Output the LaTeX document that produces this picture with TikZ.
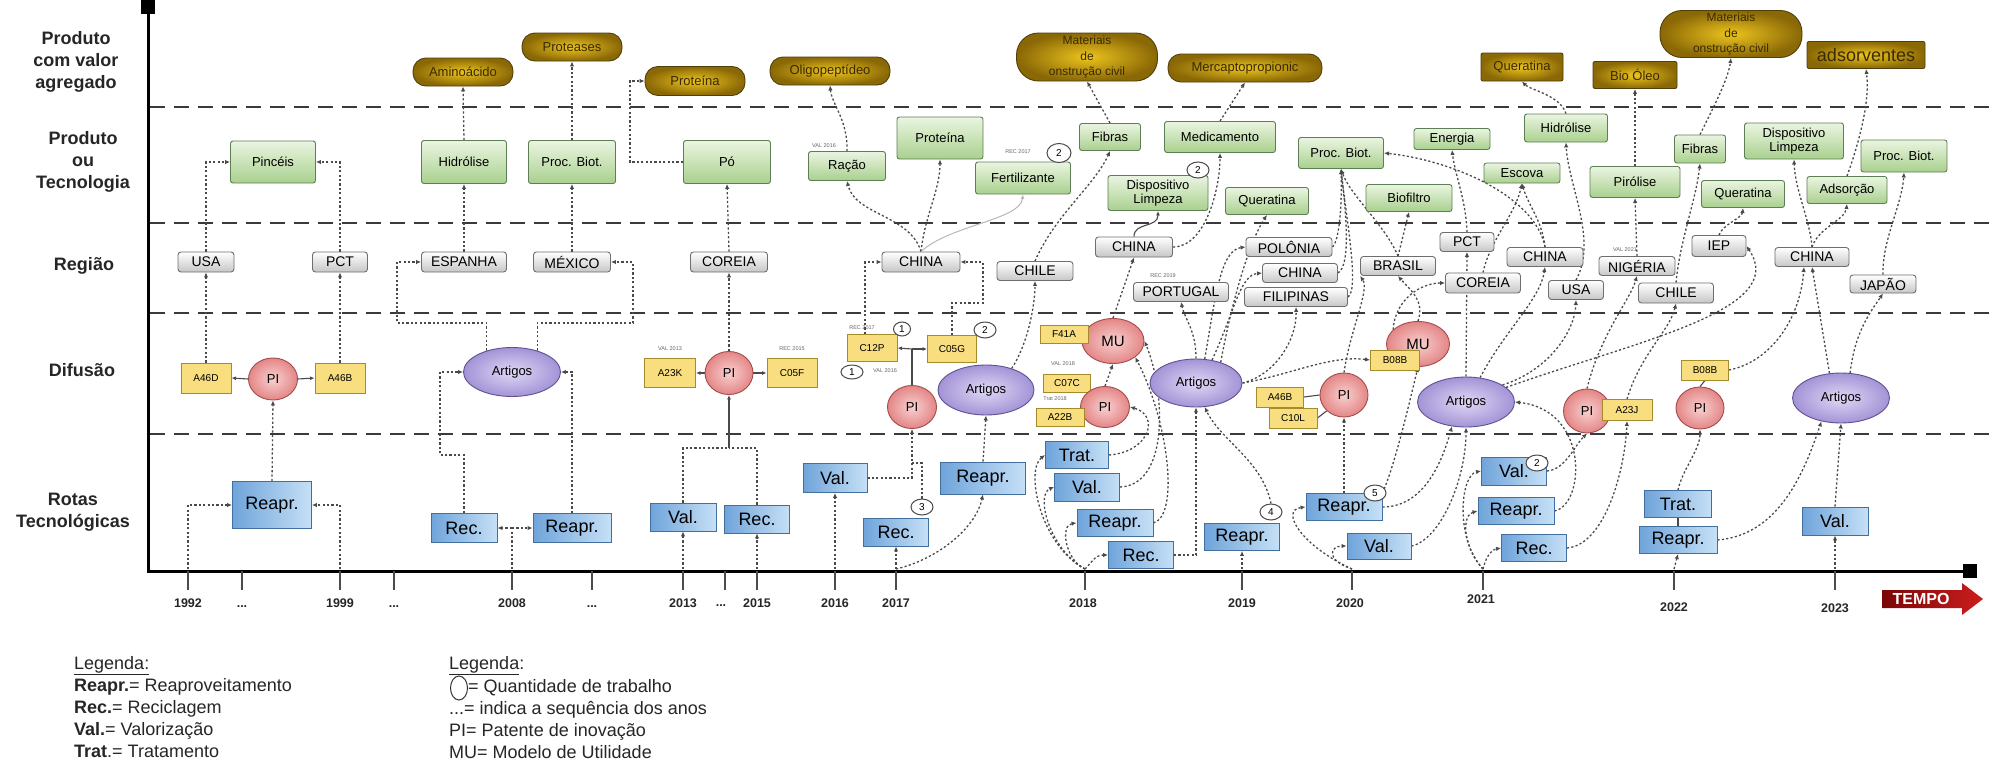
\documentclass[tikz,border=0pt]{standalone}
\usepackage{fontspec}
\setmainfont{Liberation Sans}
\usetikzlibrary{shapes.geometric,arrows.meta,calc}
\definecolor{grnD}{HTML}{5E7F55}
\definecolor{grnL}{HTML}{EAF5E1}
\definecolor{grnM}{HTML}{A9D08E}
\definecolor{gryD}{HTML}{6E6E6E}
\definecolor{gryM}{HTML}{C6C6C6}
\definecolor{yelD}{HTML}{A68B2C}
\definecolor{yelM}{HTML}{F8DE7E}
\definecolor{bluD}{HTML}{41709F}
\definecolor{bluM}{HTML}{6FA4DA}
\definecolor{bluL}{HTML}{C6E0F6}
\definecolor{gldD}{HTML}{4F3F0A}
\definecolor{gldL}{HTML}{EDC51E}
\definecolor{gldM}{HTML}{8A6806}
\definecolor{gldT}{HTML}{3A2A00}
\definecolor{piD}{HTML}{A34C4C}
\definecolor{piL}{HTML}{F8D0D0}
\definecolor{piM}{HTML}{E48686}
\definecolor{artD}{HTML}{5F5294}
\definecolor{artL}{HTML}{E0D8F5}
\definecolor{artM}{HTML}{A393D6}
\definecolor{conC}{HTML}{4A4A4A}
\definecolor{sepC}{HTML}{3A3A3A}
\definecolor{tempoD}{HTML}{7A0606}
\definecolor{tempoL}{HTML}{CC1E1E}
\pgfdeclarelayer{bg}
\pgfsetlayers{bg,main}
\begin{document}
\begin{tikzpicture}[x=1pt,y=-1pt,
  sz/.style 2 args={minimum width=#1pt,minimum height=#2pt},
  bx/.style={draw,line width=0.9pt,align=center,inner sep=1pt},
  grn/.style={bx,rounded corners=2.5pt,draw=grnD,top color=grnL,bottom color=grnM,font=\fontsize{13}{15}\selectfont},
  gry/.style={bx,rounded corners=3pt,draw=gryD,top color=white,bottom color=gryM,font=\fontsize{14}{15}\selectfont},
  yel/.style={bx,draw=yelD,fill=yelM,font=\fontsize{10}{11}\selectfont},
  blu/.style={bx,draw=bluD,left color=bluM,right color=bluL,font=\fontsize{18}{19}\selectfont},
  gld/.style={bx,draw=gldD,inner color=gldL,outer color=gldM,text=gldT,font=\fontsize{13}{15}\selectfont},
  pill/.style={gld,rounded corners=13pt},
  gldbox/.style={gld,rounded corners=2pt},
  pinode/.style={ellipse,draw=piD,line width=0.9pt,inner color=piL,outer color=piM,font=\fontsize{13}{14}\selectfont,inner sep=0pt},
  artnode/.style={ellipse,draw=artD,line width=0.9pt,inner color=artL,outer color=artM,font=\fontsize{13}{14}\selectfont,inner sep=0pt},
  numc/.style={ellipse,draw=conC,fill=white,line width=1pt,minimum width=22pt,minimum height=16pt,inner sep=0pt,font=\fontsize{10}{10}\selectfont},
  yeartag/.style={font=\fontsize{5.5}{6}\selectfont,text=black!60,inner sep=0pt},
  dl/.style={draw=conC,line width=1.3pt,dash pattern=on 2.2pt off 2.2pt},
  dla/.style={dl,-{Latex[length=5pt,width=4.5pt]}},
  sla/.style={draw=conC,line width=1.1pt,-{Latex[length=4.5pt,width=4pt]}},
  plainlink/.style={draw=conC,line width=1.1pt},
  graylink/.style={draw=black!28,line width=1pt,-{Latex[length=4.5pt,width=4pt]}},
  rowsep/.style={draw=sepC,line width=2.6pt,dash pattern=on 15pt off 9pt},
  axisline/.style={draw=black,line width=3pt},
  tickmark/.style={draw=black!70,line width=1.5pt},
  yearlab/.style={font=\fontsize{12.5}{13}\selectfont\bfseries,text=black!85},
  rowlab/.style={font=\fontsize{18}{22}\selectfont\bfseries,align=center,text=black!85},
  legtext/.style={font=\fontsize{18}{20}\selectfont,anchor=base west,inner sep=0pt,text=black!85}
]
\useasboundingbox (0,0) rectangle (2000,763);

% ---------- row titles ----------
\node[rowlab] (labA) at (76,62) {Produto\\com valor\\agregado};
\node[rowlab] (labB) at (83,162) {Produto\\ou\\Tecnologia};
\node[rowlab] (labC) at (84,266) {Região};
\node[rowlab] (labD) at (82,370) {Difusão};
\node[rowlab] (labE) at (73,512) {Rotas\\Tecnológicas};

% ---------- time axis ----------
\coordinate (k1992) at (188,569);
\coordinate (k1999) at (340,569);
\coordinate (k2008) at (512,569);
\coordinate (k2013) at (683,569);
\coordinate (k2015) at (757,569);
\coordinate (k2016) at (835,569);
\coordinate (k2017) at (896,569);
\coordinate (k2018) at (1085,569);
\coordinate (k2019) at (1242,569);
\coordinate (k2020) at (1352,569);
\coordinate (k2021) at (1483,569);
\coordinate (k2022) at (1674,569);
\coordinate (k2023) at (1835,569);
\node[yearlab] (y1992) at (188,603) {1992};
\node[yearlab] (d1) at (242,607) {...};
\node[yearlab] (y1999) at (340,603) {1999};
\node[yearlab] (d2) at (394,607) {...};
\node[yearlab] (y2008) at (512,603) {2008};
\node[yearlab] (d3) at (592,607) {...};
\node[yearlab] (y2013) at (683,603) {2013};
\node[yearlab] (d4) at (721,606) {...};
\node[yearlab] (y2015) at (757,603) {2015};
\node[yearlab] (y2016) at (835,603) {2016};
\node[yearlab] (y2017) at (896,603) {2017};
\node[yearlab] (y2018) at (1083,603) {2018};
\node[yearlab] (y2019) at (1242,603) {2019};
\node[yearlab] (y2020) at (1350,603) {2020};
\node[yearlab] (y2021) at (1481,599) {2021};
\node[yearlab] (y2022) at (1674,607) {2022};
\node[yearlab] (y2023) at (1835,608) {2023};

% arrow "TEMPO"
\shade[left color=tempoD,right color=tempoL] (1882,590) -- (1962,590) -- (1962,583) -- (1983,599) -- (1962,615) -- (1962,608) -- (1882,608) -- cycle;
\node[font=\fontsize{16}{16}\selectfont\bfseries,text=white] (tempo) at (1921,599) {TEMPO};

% ---------- 1992 / 1999 ----------
\node[grn,sz={85}{42}] (pinceis) at (273,162) {Pincéis};
\node[gry,sz={56}{20}] (usa92) at (206,262) {USA};
\node[gry,sz={55}{20}] (pct99) at (340,262) {PCT};
\node[yel,sz={50}{30}] (a46d) at (206,378) {A46D};
\node[pinode,sz={49}{42}] (pi92) at (273,379) {PI};
\node[yel,sz={50}{30}] (a46b) at (340,378) {A46B};
\node[blu,sz={79}{47}] (reapr92) at (272,505) {Reapr.};

% ---------- 2008 ----------
\node[pill,sz={100}{28}] (aminoacido) at (463,72) {Aminoácido};
\node[pill,sz={100}{28}] (proteases) at (572,47) {Proteases};
\node[grn,sz={85}{43}] (hidrolise08) at (464,162) {Hidrólise};
\node[grn,sz={87}{43}] (procbiot08) at (572,162) {Proc. Biot.};
\node[gry,sz={85}{20}] (espanha) at (464,262) {ESPANHA};
\node[gry,sz={77}{20}] (mexico) at (572,262) {MÉXICO};
\node[artnode,sz={97}{49}] (artigos08) at (512,372) {Artigos};
\node[blu,sz={66}{29}] (rec08) at (464,528) {Rec.};
\node[blu,sz={78}{29}] (reapr08) at (572,528) {Reapr.};

% ---------- 2013 / 2015 ----------
\node[pill,sz={100}{29}] (proteina13) at (695,81) {Proteína};
\node[grn,sz={87}{43}] (po) at (727,162) {Pó};
\node[gry,sz={77}{20}] (coreia13) at (729,262) {COREIA};
\node[yel,sz={51}{29}] (a23k) at (670,373) {A23K};
\node[yeartag] (t13) at (670,349) {VAL 2013};
\node[pinode,sz={48}{43}] (pi13) at (729,373) {PI};
\node[yel,sz={50}{29}] (c05f) at (792,373) {C05F};
\node[yeartag] (t15) at (792,349) {REC 2015};
\node[blu,sz={66}{28}] (val13) at (683,517) {Val.};
\node[blu,sz={65}{28}] (rec15) at (757,519) {Rec.};

% ---------- 2016 / 2017 ----------
\node[pill,sz={120}{28}] (oligo) at (830,71) {Oligopeptídeo};
\node[grn,sz={77}{29}] (racao) at (847,166) {Ração};
\node[yeartag] (t16a) at (824,146) {VAL 2016};
\node[grn,sz={86}{42}] (proteina17) at (940,138) {Proteína};
\node[grn,sz={95}{32}] (fertil) at (1023,178) {Fertilizante};
\node[yeartag] (t17a) at (1018,152) {REC 2017};
\node[gry,sz={78}{20}] (china16) at (921,262) {CHINA};
\node[yel,sz={50}{27}] (c12p) at (872,348) {C12P};
\node[yeartag] (t17b) at (862,328) {REC 2017};
\node[yeartag] (t16b) at (885,371) {VAL 2016};
\node[yel,sz={49}{27}] (c05g) at (952,349) {C05G};
\node[pinode,sz={49}{43}] (pi17) at (912,407) {PI};
\node[artnode,sz={96}{50}] (artigos17) at (986,390) {Artigos};
\node[blu,sz={64}{29}] (val16) at (835,478) {Val.};
\node[blu,sz={65}{28}] (rec17) at (896,532) {Rec.};
\node[blu,sz={85}{32}] (reapr17) at (983,478) {Reapr.};

% ---------- 2018 ----------
\node[pill,rounded corners=22pt,sz={141}{48},inner sep=0pt,font=\fontsize{12}{15.5}\selectfont] (materiais18) at (1087,57) {Materiais\\de\\onstrução civil};
\node[pill,sz={154}{28}] (merc) at (1245,68) {Mercaptopropionic};
\node[grn,sz={61}{27}] (fibras18) at (1110,137) {Fibras};
\node[grn,sz={111}{31}] (medicamento) at (1220,137) {Medicamento};
\node[grn,sz={100}{35},font=\fontsize{13}{14}\selectfont] (displimp18) at (1158,193) {Dispositivo\\Limpeza};
\node[gry,sz={76}{19}] (chile18) at (1035,271) {CHILE};
\node[gry,sz={77}{20}] (china18) at (1134,247) {CHINA};
\node[gry,sz={95}{19}] (portugal) at (1181,292) {PORTUGAL};
\node[yeartag] (t19a) at (1163,276) {REC 2019};
\node[pinode,sz={62}{45},font=\fontsize{15}{16}\selectfont] (mu18) at (1113,341) {MU};
\node[yel,sz={48}{18}] (f41a) at (1064,334) {F41A};
\node[yel,sz={47}{18}] (c07c) at (1067,383) {C07C};
\node[yeartag] (t18a) at (1063,364) {VAL 2018};
\node[yeartag] (t18b) at (1055,399) {Trat 2018};
\node[pinode,sz={49}{41}] (pi18) at (1105,407) {PI};
\node[yel,sz={48}{18}] (a22b) at (1060,417) {A22B};
\node[blu,sz={63}{27}] (trat18) at (1077,455) {Trat.};
\node[blu,sz={65}{28}] (val18) at (1087,487) {Val.};
\node[blu,sz={76}{27}] (reapr18) at (1115,523) {Reapr.};
\node[blu,sz={65}{27}] (rec18) at (1141,555) {Rec.};

% ---------- 2019 ----------
\node[grn,sz={83}{27}] (queratina19) at (1267,201) {Queratina};
\node[grn,sz={85}{31}] (procbiot19) at (1341,153) {Proc. Biot.};
\node[gry,sz={86}{19}] (polonia) at (1289,247) {POLÔNIA};
\node[gry,sz={75}{19}] (china19) at (1300,273) {CHINA};
\node[gry,sz={103}{19}] (filipinas) at (1296,297) {FILIPINAS};
\node[artnode,sz={92}{48}] (artigos19) at (1196,383) {Artigos};
\node[blu,sz={75}{27}] (reapr19) at (1242,537) {Reapr.};

% ---------- 2020 ----------
\node[grn,sz={76}{21}] (energia) at (1452,139) {Energia};
\node[grn,sz={86}{27}] (biofiltro) at (1409,198) {Biofiltro};
\node[gry,sz={75}{19}] (brasil) at (1398,266) {BRASIL};
\node[gry,sz={54}{19}] (pct20) at (1467,242) {PCT};
\node[gry,sz={75}{20}] (coreia20) at (1483,283) {COREIA};
\node[pinode,sz={63}{45},font=\fontsize{15}{16}\selectfont] (mu20) at (1418,344) {MU};
\node[yel,sz={49}{20}] (b08b20) at (1395,360) {B08B};
\node[pinode,sz={48}{44}] (pi20) at (1344,395) {PI};
\node[yel,sz={47}{20}] (a46b20) at (1280,397) {A46B};
\node[yel,sz={48}{20}] (c10l) at (1293,418) {C10L};
\node[blu,sz={76}{27}] (reapr20) at (1344,507) {Reapr.};
\node[blu,sz={64}{26}] (val20) at (1379,546) {Val.};

% ---------- 2021 ----------
\node[gldbox,sz={82}{28}] (queratinaG) at (1522,67) {Queratina};
\node[grn,sz={83}{28}] (hidrolise21) at (1566,128) {Hidrólise};
\node[grn,sz={76}{20}] (escova) at (1522,173) {Escova};
\node[gry,sz={76}{19}] (china21) at (1545,257) {CHINA};
\node[gry,sz={55}{19}] (usa21) at (1576,290) {USA};
\node[artnode,sz={97}{50}] (artigos21) at (1466,402) {Artigos};
\node[blu,sz={65}{28}] (val21) at (1514,471) {Val.};
\node[blu,sz={76}{27}] (reapr21) at (1516,511) {Reapr.};
\node[blu,sz={65}{27}] (rec21) at (1534,548) {Rec.};
\node[gldbox,sz={84}{27}] (bioleo) at (1635,75) {Bio Óleo};
\node[grn,sz={90}{31}] (pirolise) at (1635,182) {Pirólise};
\node[gry,sz={76}{19}] (nigeria) at (1637,266) {NIGÉRIA};
\node[yeartag] (t21a) at (1625,250) {VAL 2021};
\node[pinode,sz={47}{44}] (pi21) at (1587,411) {PI};
\node[yel,sz={50}{21}] (a23j) at (1627,410) {A23J};

% ---------- 2022 ----------
\node[pill,rounded corners=22pt,sz={142}{47},inner sep=0pt,font=\fontsize{12}{15.5}\selectfont] (materiais22) at (1731,34) {Materiais\\de\\onstrução civil};
\node[grn,sz={51}{28}] (fibras22) at (1700,149) {Fibras};
\node[grn,sz={83}{27}] (queratina22) at (1743,194) {Queratina};
\node[gry,sz={54}{21}] (iep) at (1719,246) {IEP};
\node[gry,sz={75}{20}] (chile22) at (1676,293) {CHILE};
\node[yel,sz={47}{20}] (b08b22) at (1705,370) {B08B};
\node[pinode,sz={48}{42}] (pi22) at (1700,408) {PI};
\node[blu,sz={67}{27}] (trat22) at (1678,504) {Trat.};
\node[blu,sz={78}{27}] (reapr22) at (1678,540) {Reapr.};

% ---------- 2023 ----------
\node[gldbox,sz={118}{27},font=\fontsize{18}{19}\selectfont] (adsorventes) at (1866,55) {adsorventes};
\node[grn,sz={99}{36},font=\fontsize{13}{14}\selectfont] (displimp22) at (1794,141) {Dispositivo\\Limpeza};
\node[grn,sz={86}{32}] (procbiot23) at (1904,156) {Proc. Biot.};
\node[grn,sz={80}{27}] (adsorcao) at (1847,190) {Adsorção};
\node[gry,sz={74}{19}] (china23) at (1812,257) {CHINA};
\node[gry,sz={66}{18}] (japao) at (1883,284) {JAPÃO};
\node[artnode,sz={97}{50}] (artigos23) at (1841,398) {Artigos};
\node[blu,sz={66}{28}] (val23) at (1835,521) {Val.};

% ---------- work-count markers ----------
\node[numc,sz={17}{14}] (n1a) at (902,329) {1};
\node[numc,sz={22}{14}] (n1b) at (852,372) {1};
\node[numc] (n2a) at (985,330) {2};
\node[numc] (n3) at (922,507) {3};
\node[numc,sz={24}{19}] (n2b) at (1059,153) {2};
\node[numc] (n2c) at (1198,170) {2};
\node[numc] (n4) at (1271,512) {4};
\node[numc] (n5) at (1375,493) {5};
\node[numc] (n2d) at (1537,463) {2};

% ---------- legends ----------
\node[legtext] (legL0) at (74,669) {\underline{Legenda:}};
\node[legtext] (legL1) at (74,691) {\textbf{Reapr.}= Reaproveitamento};
\node[legtext] (legL2) at (74,713) {\textbf{Rec.}= Reciclagem};
\node[legtext] (legL3) at (74,735) {\textbf{Val.}= Valorização};
\node[legtext] (legL4) at (74,757) {\textbf{Trat}.= Tratamento};
\node[legtext] (legR0) at (449,669) {\underline{Legenda}:};
\node[legtext] (legR1) at (468,692) {= Quantidade de trabalho};
\node[ellipse,draw=black!80,line width=1pt,sz={17}{24},inner sep=0pt] (legC) at (459,688) {};
\node[legtext] (legR2) at (449,714) {...= indica a sequência dos anos};
\node[legtext] (legR3) at (449,736) {PI= Patente de inovação};
\node[legtext] (legR4) at (449,758) {MU= Modelo de Utilidade};

\begin{pgfonlayer}{bg}
\fill[white] (0,0) rectangle (2000,763);
% band separators and axes
\foreach \yy in {107,223,313,434} \draw[rowsep] (150,\yy) -- (1995,\yy);
\draw[axisline] (148,8) -- (148,571) -- (1970,571);
\fill (141,0) rectangle (155,14);
\fill (1963,564) rectangle (1977,578);
\foreach \x in {188,242,340,394,512,592,683,725,757,835,896,1085,1242,1352,1483,1674,1835}
  \draw[tickmark] (\x,571) -- (\x,590);

% 1992 - 1999
\draw[dla] (k1992) |- (reapr92.west);
\draw[dla] (k1999) |- (reapr92.east);
\draw[dla] (reapr92.north) -- (pi92.south);
\draw[sla] (pi92.west) -- (a46d.east);
\draw[sla] (pi92.east) -- (a46b.west);
\draw[dla] (a46d.north) -- (usa92.south);
\draw[dla] (a46b.north) -- (pct99.south);
\draw[dla] (usa92.north) |- (pinceis.west);
\draw[dla] (pct99.north) |- (pinceis.east);

% 2008
\coordinate (j08) at (512,528);
\draw[dl] (k2008) -- (j08);
\draw[dla] (j08) -- (rec08.east);
\draw[dla] (j08) -- (reapr08.west);
\draw[dla] (rec08.north) |- (440,455) |- (artigos08.west);
\draw[dla] (reapr08.north) |- (artigos08.east);
\draw[dla] (artigos08.140) |- (397,323) |- (espanha.west);
\draw[dla] (artigos08.40) |- (633,323) |- (mexico.east);
\draw[dla] (espanha.north) -- (hidrolise08.south);
\draw[dla] (hidrolise08.north) -- (aminoacido.south);
\draw[dla] (mexico.north) -- (procbiot08.south);
\draw[dla] (procbiot08.north) -- (proteases.south);

% 2013 - 2015
\coordinate (j13) at (729,448);
\draw[dla] (k2013) -- (val13.south);
\draw[dla] (k2015) -- (rec15.south);
\draw[dl] (val13.north) |- (j13);
\draw[dl] (rec15.north) |- (j13);
\draw[sla] (j13) -- (pi13.south);
\draw[sla] (pi13.west) -- (a23k.east);
\draw[sla] (pi13.east) -- (c05f.west);
\draw[dla] (pi13.north) -- (coreia13.south);
\draw[dla] (coreia13.north) -- (po.south);
\draw[dla] (po.west) -| (630,120) |- (proteina13.west);

% 2016 - 2017
\coordinate (j17) at (912,463);
\coordinate (j17b) at (912,349);
\draw[dla] (k2016) -- (val16.south);
\draw[dla] (k2017) -- (rec17.south);
\draw[dla] (k2017) .. controls (935,560) and (975,530) .. (reapr17.south);
\draw[dla] (val16.east) -| (pi17.south);
\draw[dl] (n3.north) |- (j17);
\draw[plainlink] (pi17.north) -- (j17b);
\draw[sla] (j17b) -- (c12p.east);
\draw[sla] (j17b) -- (c05g.west);
\draw[dla] ([xshift=-7pt]c12p.north) |- (china16.west);
\draw[dla] (c05g.north) |- (983,303) |- (china16.east);
\draw[dla] (reapr17.north) -- (artigos17.south);
\draw[dla] (artigos17.40) .. controls (1030,340) and (1035,300) .. (chile18.south);
\draw[dla] (chile18.north) .. controls (1055,215) and (1095,185) .. (fibras18.south);
\draw[dla] (fibras18.north) -- (materiais18.south);
\draw[dla] (china16.north) .. controls (910,215) and (855,215) .. (racao.south);
\draw[dla] (china16.north) .. controls (925,215) and (940,190) .. (proteina17.south);
\draw[graylink] (china16.north) .. controls (950,225) and (1020,220) .. (fertil.south);
\draw[dla] (racao.north) .. controls (848,120) and (832,105) .. (oligo.south);

% 2018
\draw[dla] (k2018) .. controls (1040,545) and (1025,470) .. (trat18.west);
\draw[dla] (k2018) .. controls (1050,550) and (1035,495) .. (val18.west);
\draw[dla] (k2018) .. controls (1065,560) and (1060,525) .. (reapr18.west);
\draw[dla] (k2018) .. controls (1092,562) and (1095,555) .. (rec18.west);
\draw[dla] (trat18.east) .. controls (1150,452) and (1160,415) .. (pi18.east);
\draw[dla] (val18.east) .. controls (1170,485) and (1165,390) .. (mu18.east);
\draw[dla] (reapr18.east) .. controls (1180,515) and (1168,420) .. (mu18.south east);
\draw[dla] (rec18.east) -| (artigos19.south);
\draw[dla] (pi18.north) -- (mu18.south);
\draw[dla] (mu18.north) -- (china18.south);
\draw[sla] (china18.north) .. controls (1134,222) and (1158,228) .. (displimp18.south);
\draw[dla] (china18.east) .. controls (1205,247) and (1220,190) .. (medicamento.south);
\draw[dla] (artigos19.north) .. controls (1196,330) and (1185,320) .. (portugal.south);
\draw[dla] (medicamento.north) -- (merc.south);

% 2019
\draw[dla] (k2019) -- (reapr19.south);
\draw[dla] (n4.north) .. controls (1262,460) and (1220,440) .. (artigos19.290);
\draw[dla] (artigos19.70) .. controls (1215,300) and (1220,250) .. (polonia.west);
\draw[dla] (artigos19.55) .. controls (1235,310) and (1240,275) .. (china19.west);
\draw[dla] (artigos19.east) .. controls (1275,375) and (1297,340) .. (filipinas.south);
\draw[dla] (artigos19.40) .. controls (1232,300) and (1250,240) .. (queratina19.south);
\draw[dla] (polonia.east) .. controls (1340,240) and (1342,200) .. (procbiot19.south);
\draw[dla] (china19.east) .. controls (1352,265) and (1345,205) .. (procbiot19.south);
\draw[dla] (filipinas.east) .. controls (1360,290) and (1345,210) .. (procbiot19.south);
\draw[dla] (brasil.north) .. controls (1385,225) and (1350,195) .. (procbiot19.south);
\draw[dla] (brasil.north) -- (biofiltro.south);

% 2020
\draw[dla] (pi20.north) .. controls (1350,330) and (1370,290) .. (brasil.south west);
\draw[dla] (mu20.north) .. controls (1425,300) and (1410,290) .. (brasil.south);
\draw[dla] (mu20.150) .. controls (1395,300) and (1420,283) .. (coreia20.west);
\draw[dla] (artigos19.east) .. controls (1290,375) and (1330,355) .. (b08b20.west);
\draw[plainlink] (a46b20.east) -- (pi20.west);
\draw[plainlink] (c10l.east) -- (pi20.south west);
\draw[dla] (reapr20.north) -- (pi20.south);
\draw[dla] (k2020) .. controls (1300,545) and (1280,510) .. (reapr20.west);
\draw[dla] (k2020) .. controls (1325,560) and (1330,546) .. (val20.west);
\draw[dla] (reapr20.north east) .. controls (1395,465) and (1410,400) .. (mu20.south);
\draw[dla] (val20.east) .. controls (1440,540) and (1466,480) .. (artigos21.south);
\draw[dla] (reapr20.east) .. controls (1420,507) and (1440,470) .. (artigos21.240);

% 2021
\draw[dla] (china21.north) .. controls (1535,195) and (1450,160) .. (procbiot19.east);
\draw[dla] (pct20.north) .. controls (1466,200) and (1455,175) .. (energia.south);
\draw[dla] (coreia20.north) .. controls (1490,240) and (1515,215) .. (escova.south);
\draw[dla] (china21.north) .. controls (1542,220) and (1528,205) .. (escova.south);
\draw[dla] (usa21.north) .. controls (1598,240) and (1568,185) .. (hidrolise21.south);
\draw[dla] (hidrolise21.north) .. controls (1560,95) and (1530,90) .. (queratinaG.south);
\draw[dla] (artigos21.north) -- (pct20.south);
\draw[dla] (artigos21.60) .. controls (1505,330) and (1540,300) .. (china21.south);
\draw[dla] (artigos21.25) .. controls (1550,370) and (1575,330) .. (usa21.south);
\draw[dla] (k2021) .. controls (1455,540) and (1460,475) .. (val21.west);
\draw[dla] (k2021) .. controls (1462,545) and (1462,515) .. (reapr21.west);
\draw[dla] (k2021) .. controls (1485,560) and (1490,550) .. (rec21.west);
\draw[dla] (val21.east) .. controls (1565,470) and (1575,445) .. (pi21.south);
\draw[dla] (reapr21.east) .. controls (1585,505) and (1590,410) .. (artigos21.east);
\draw[dla] (rec21.east) .. controls (1605,545) and (1625,470) .. (a23j.south);
\draw[dla] (pi21.north) .. controls (1600,335) and (1630,300) .. (nigeria.south);
\draw[dla] (artigos21.20) .. controls (1640,340) and (1790,310) .. (iep.east);
\draw[dla] (a23j.north) .. controls (1640,355) and (1670,330) .. (chile22.south);
\draw[dla] (nigeria.north) -- (pirolise.south);
\draw[dla] (pirolise.north) -- (bioleo.south);

% 2022 - 2023
\draw[dla] (chile22.north) .. controls (1680,240) and (1696,200) .. (fibras22.south);
\draw[dla] (fibras22.north) .. controls (1712,110) and (1728,80) .. (materiais22.south);
\draw[dla] (iep.north) .. controls (1722,225) and (1742,218) .. (queratina22.south);
\draw[dla] (k2022) -- (reapr22.south);
\draw[plainlink] (reapr22.north) -- (trat22.south);
\draw[dla] (trat22.north) .. controls (1682,470) and (1700,450) .. (pi22.south);
\draw[plainlink] (pi22.north) -- (b08b22.south);
\draw[dla] (b08b22.east) .. controls (1770,362) and (1800,320) .. ([xshift=-8pt]china23.south);
\draw[dla] (reapr22.east) .. controls (1780,535) and (1805,470) .. (artigos23.230);
\draw[dla] (artigos23.115) -- (china23.south);
\draw[dla] (artigos23.70) .. controls (1855,330) and (1872,310) .. (japao.south);
\draw[dla] (k2023) -- (val23.south);
\draw[dla] (val23.north) -- (artigos23.south);
\draw[dla] (china23.north) .. controls (1810,220) and (1795,190) .. (displimp22.south);
\draw[dla] (china23.north) .. controls (1818,228) and (1845,220) .. (adsorcao.south);
\draw[dla] (adsorcao.north) .. controls (1860,140) and (1870,100) .. (adsorventes.south);
\draw[dla] (japao.north) .. controls (1882,240) and (1902,205) .. (procbiot23.south);
\end{pgfonlayer}
\end{tikzpicture}
\end{document}
